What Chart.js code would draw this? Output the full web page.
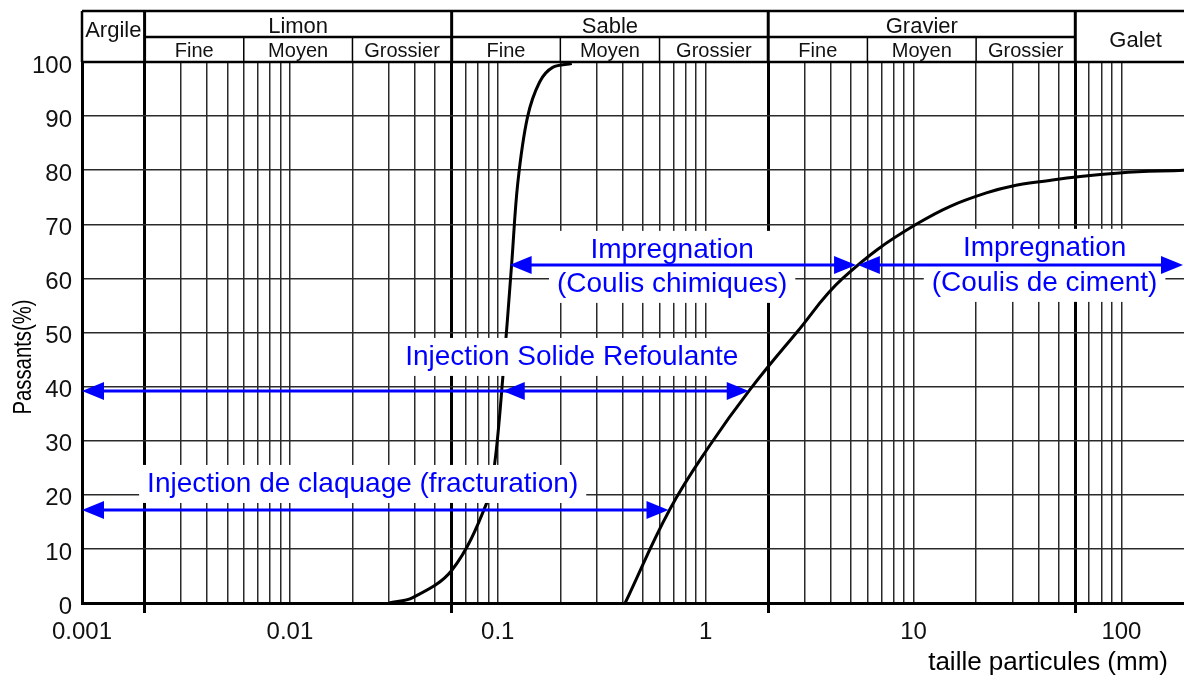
<!DOCTYPE html>
<html>
<head>
<meta charset="utf-8">
<script src="https://cdn.jsdelivr.net/npm/chart.js@4/dist/chart.umd.min.js"></script>
<style>
html,body{margin:0;padding:0;background:#fff;}
#wrap{width:1184px;height:677px;}
</style>
</head>
<body>
<div id="wrap"><canvas id="c" width="1184" height="677"></canvas></div>
<script>
// courbe 1 (sable fin)
const sableX = [0.030, 0.039, 0.06, 0.0885, 0.0968, 0.1057, 0.1167, 0.1248, 0.139, 0.159, 0.1837, 0.227];
const sableY = [0, 1, 6, 18.5, 26, 41.6, 62.8, 77.6, 89.8, 96.3, 99, 99.7];
// courbe 2 (grave)
const graveX = [0.41, 0.67, 1.05, 1.63, 2.74, 4.56, 10.3, 22.4, 46.6, 97.7, 200];
const graveY = [0, 17.2, 29.2, 39.4, 50, 60, 70, 75.8, 78.2, 79.5, 80];

// axe x (mm)
const xLabels = [0.001, 0.01, 0.1, 1, 10, 100];
const xGrid = [0.001,0.002,0.003,0.004,0.005,0.006,0.007,0.008,0.009,0.01,
  0.02,0.03,0.04,0.05,0.06,0.07,0.08,0.09,0.1,
  0.2,0.3,0.4,0.5,0.6,0.7,0.8,0.9,1,
  2,3,4,5,6,7,8,9,10,
  20,30,40,50,60,70,80,90,100];

// classes granulometriques
const classNames = ['Argile', 'Limon', 'Sable', 'Gravier', 'Galet'];
const classLimits = [0.001, 0.002, 0.06, 2, 60, 200];
const subNames = ['Fine', 'Moyen', 'Grossier'];
const subLimits = [0.006, 0.02, 0.2, 0.6, 6, 20];

// domaines d'injection
const zoneText = [['Impregnation', '(Coulis chimiques)'], ['Impregnation', '(Coulis de ciment)'], ['Injection Solide Refoulante'], ['Injection de claquage (fracturation)']];
const zoneFrom = [0.114, 5.4, 0.001, 0.001];
const zoneTo = [5.35, 200, 1.63, 0.67];
const zoneLevel = [62.5, 62.5, 39.2, 17.2];
const zoneMidHead = [null, null, 0.1057, null];
const zoneCenter = [0.69, 42.7, 0.227, 0.0224];

const FONT = "'Liberation Sans', Arial, sans-serif";
const BLUE = 'rgb(0,0,255)';

function line(ctx, x1, y1, x2, y2) {
  ctx.beginPath(); ctx.moveTo(x1, y1); ctx.lineTo(x2, y2); ctx.stroke();
}
function head(ctx, tip, yy, dir) {
  ctx.beginPath();
  ctx.moveTo(tip, yy);
  ctx.lineTo(tip - dir * 22, yy - 9);
  ctx.lineTo(tip - dir * 22, yy + 9);
  ctx.closePath();
  ctx.fill();
}

const decor = {
  id: 'decor',
  beforeDraw(chart) {
    const ctx = chart.ctx;
    ctx.save();
    ctx.fillStyle = '#fff';
    ctx.fillRect(0, 0, chart.width, chart.height);
    ctx.restore();
  },
  afterDatasetsDraw(chart) {
    const {ctx, scales: {x, y}} = chart;
    const dy = [[-7, 27], [-9, 26], [-26], [-18]];   // lignes de texte / fleche
    ctx.save();
    ctx.font = '28px ' + FONT;
    ctx.textAlign = 'center';
    ctx.textBaseline = 'alphabetic';
    // fonds blancs sous les textes
    zoneText.forEach((lines, i) => {
      const yy = y.getPixelForValue(zoneLevel[i]);
      const cx = x.getPixelForValue(zoneCenter[i]);
      const w = Math.max(...lines.map(t => ctx.measureText(t).width));
      const top = yy + dy[i][0] - 21 - 6;
      const bot = yy + dy[i][dy[i].length - 1] + 6 + 5;
      ctx.fillStyle = '#fff';
      ctx.fillRect(cx - w / 2 - 8, top, w + 16, bot - top);
    });
    // textes + fleches
    ctx.fillStyle = BLUE;
    ctx.strokeStyle = BLUE;
    ctx.lineWidth = 3;
    zoneText.forEach((lines, i) => {
      const yy = y.getPixelForValue(zoneLevel[i]);
      const cx = x.getPixelForValue(zoneCenter[i]);
      lines.forEach((t, k) => ctx.fillText(t, cx, yy + dy[i][k]));
      const x1 = x.getPixelForValue(zoneFrom[i]);
      const x2 = x.getPixelForValue(zoneTo[i]) - 1;
      line(ctx, x1 + 10, yy, x2 - 10, yy);
      head(ctx, x1, yy, -1);
      head(ctx, x2, yy, 1);
      if (zoneMidHead[i] !== null) head(ctx, x.getPixelForValue(zoneMidHead[i]), yy, -1);
    });
    ctx.restore();
  },
  afterDraw(chart) {
    const {ctx, chartArea: a, scales: {x}} = chart;
    const hx = v => x.getPixelForValue(v);
    const top = a.top - 51, mid = a.top - 25;
    ctx.save();
    ctx.strokeStyle = '#000';
    ctx.lineWidth = 2.5;
    line(ctx, a.left, top, a.right, top);
    line(ctx, hx(classLimits[1]), mid, hx(classLimits[4]), mid);
    line(ctx, a.left, a.top, a.right, a.top);
    line(ctx, a.left, top, a.left, a.top);
    ctx.lineWidth = 3;
    for (let i = 1; i < classLimits.length - 1; i++) line(ctx, hx(classLimits[i]), top, hx(classLimits[i]), a.top);
    ctx.lineWidth = 1.5;
    subLimits.forEach(v => line(ctx, hx(v), mid, hx(v), a.top));

    ctx.fillStyle = '#111';
    ctx.textAlign = 'center';
    ctx.textBaseline = 'alphabetic';
    ctx.font = '22px ' + FONT;
    classNames.forEach((n, i) => {
      let cx = (hx(classLimits[i]) + hx(classLimits[i + 1])) / 2;
      let by = top + 22;
      if (i === 0) by = top + 26;
      if (i === classNames.length - 1) { by = top + 36; cx += 6; }
      ctx.fillText(n, cx, by);
    });
    ctx.font = '20px ' + FONT;
    for (let c = 1; c <= 3; c++) {
      const lims = [classLimits[c], subLimits[(c - 1) * 2], subLimits[(c - 1) * 2 + 1], classLimits[c + 1]];
      subNames.forEach((n, k) => {
        ctx.fillText(n, (hx(lims[k]) + hx(lims[k + 1])) / 2, a.top - 5);
      });
    }

    // titres des axes
    ctx.fillStyle = '#000';
    ctx.font = '26px ' + FONT;
    ctx.textAlign = 'right';
    ctx.fillText('taille particules (mm)', 1168, 670);
    ctx.save();
    ctx.translate(31, 357);
    ctx.rotate(-Math.PI / 2);
    ctx.scale(0.78, 1);
    ctx.textAlign = 'center';
    ctx.font = '26px ' + FONT;
    ctx.fillText('Passants(%)', 0, 0);
    ctx.restore();
    ctx.restore();
  }
};

const thick = v => v === classLimits[1] || v === classLimits[2] || v === classLimits[3] || v === classLimits[4];

new Chart(document.getElementById('c'), {
  type: 'line',
  data: {
    datasets: [
      {data: sableX.map((v, i) => ({x: v, y: sableY[i]})), borderColor: '#000', borderWidth: 3, pointRadius: 0, tension: 0.35, fill: false},
      {data: graveX.map((v, i) => ({x: v, y: graveY[i]})), borderColor: '#000', borderWidth: 3, pointRadius: 0, tension: 0.4, fill: false}
    ]
  },
  options: {
    responsive: false,
    animation: false,
    events: [],
    layout: {padding: {top: 62, left: 0, right: 0, bottom: 0}},
    plugins: {legend: {display: false}, tooltip: {enabled: false}},
    scales: {
      x: {
        type: 'logarithmic',
        min: 0.001,
        max: 200,
        afterBuildTicks: s => { s.ticks = xGrid.map(v => ({value: v})); },
        afterFit: s => { s.height = 74; },
        ticks: {
          autoSkip: false, maxRotation: 0, padding: 5, color: '#111',
          font: {family: FONT, size: 24},
          callback: v => xLabels.includes(v) ? String(v) : ''
        },
        grid: {
          color: c => (c.tick && c.tick.value === 0.001) ? 'rgba(0,0,0,0)' : (thick(c.tick && c.tick.value) ? '#000' : '#2a2a2a'),
          lineWidth: c => thick(c.tick && c.tick.value) ? 3 : 1.5,
          tickLength: 10,
          tickColor: c => thick(c.tick && c.tick.value) ? '#000' : 'rgba(0,0,0,0)',
          tickWidth: 3
        },
        border: {color: '#000', width: 3}
      },
      y: {
        min: 0,
        max: 100,
        afterFit: s => { s.width = 82; },
        ticks: {stepSize: 10, padding: 10, labelOffset: 4, color: '#111', font: {family: FONT, size: 24}},
        grid: {color: '#2a2a2a', lineWidth: 1.5, drawTicks: false},
        border: {color: '#000', width: 3}
      }
    }
  },
  plugins: [decor]
});
</script>
</body>
</html>
